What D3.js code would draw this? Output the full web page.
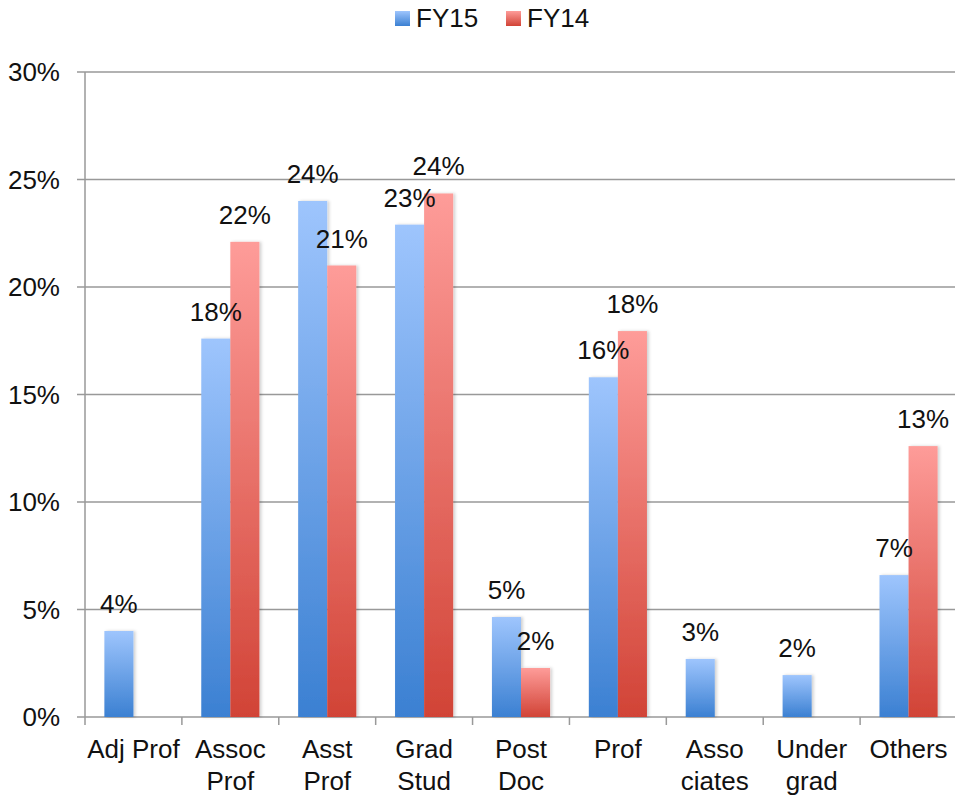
<!DOCTYPE html>
<html>
<head>
<meta charset="utf-8">
<script src="https://cdn.jsdelivr.net/npm/d3@7"></script>
<style>
  body { margin: 0; background: #fff; }
  text { font-family: "Liberation Sans", Arial, Helvetica, sans-serif; fill: #111; }
</style>
</head>
<body>
<div id="chart"></div>
<script>
// data
var categories = ["Adj Prof", "Assoc Prof", "Asst Prof", "Grad Stud", "Post Doc", "Prof", "Asso ciates", "Under grad", "Others"];
var catLines = [["Adj Prof"], ["Assoc", "Prof"], ["Asst", "Prof"], ["Grad", "Stud"], ["Post", "Doc"], ["Prof"], ["Asso", "ciates"], ["Under", "grad"], ["Others"]];
var seriesNames = ["FY15", "FY14"];
var fy15 = [4.0, 17.6, 24.0, 22.9, 4.65, 15.8, 2.7, 1.95, 6.6];
var fy14 = [null, 22.1, 21.0, 24.35, 2.28, 17.95, null, null, 12.6];
var yTicks = [0, 5, 10, 15, 20, 25, 30];

var svgWidth = 955, svgHeight = 800;
var margin = { top: 72, right: 0, bottom: 83, left: 85 };
var width = 957 - margin.left;
var height = 717 - margin.top;
var fontSize = "26px";

var svg = d3.select("#chart").append("svg")
  .attr("width", svgWidth)
  .attr("height", svgHeight);

// gradients per series
var defs = svg.append("defs");
var grads = { FY15: ["#9ec5fd", "#3b80d2"], FY14: ["#fe9c99", "#d14336"] };
seriesNames.forEach(function (s) {
  var g = defs.append("linearGradient")
    .attr("id", "grad" + s)
    .attr("x1", 0).attr("y1", 0).attr("x2", 0).attr("y2", 1);
  g.append("stop").attr("offset", "0%").attr("stop-color", grads[s][0]);
  g.append("stop").attr("offset", "100%").attr("stop-color", grads[s][1]);
});
var shadow = defs.append("filter").attr("id", "shadow")
  .attr("x", "-20%").attr("y", "-5%").attr("width", "150%").attr("height", "110%");
shadow.append("feDropShadow").attr("dx", 2).attr("dy", 0).attr("stdDeviation", 1.5)
  .attr("flood-color", "#000").attr("flood-opacity", 0.18);

var chartGroup = svg.append("g")
  .attr("transform", `translate(${margin.left}, ${margin.top})`);

var x0 = d3.scaleBand().domain(categories).range([0, width]);
var bw = x0.bandwidth();
var x1 = d3.scaleBand().domain(seriesNames).range([bw * 0.2, bw * 0.8]);
var y = d3.scaleLinear().domain([0, 30]).range([height, 0]);

// gridlines
chartGroup.selectAll(".grid")
  .data(yTicks)
  .enter()
  .append("line")
  .attr("x1", -8)
  .attr("x2", width)
  .attr("y1", d => y(d))
  .attr("y2", d => y(d))
  .attr("stroke", "#999")
  .attr("stroke-width", 1.5);

// y axis line
chartGroup.append("line")
  .attr("x1", 0).attr("x2", 0)
  .attr("y1", 0).attr("y2", height + 8)
  .attr("stroke", "#999")
  .attr("stroke-width", 1.5);

// category ticks
chartGroup.selectAll(".ctick")
  .data(categories.slice(1))
  .enter()
  .append("line")
  .attr("x1", d => x0(d)).attr("x2", d => x0(d))
  .attr("y1", height).attr("y2", height + 8)
  .attr("stroke", "#999")
  .attr("stroke-width", 1.5);

// y tick labels
chartGroup.selectAll(".ylab")
  .data(yTicks)
  .enter()
  .append("text")
  .attr("x", -25)
  .attr("y", d => y(d) + 9)
  .attr("text-anchor", "end")
  .style("font-size", fontSize)
  .text(d => d + "%");

// bars
var rows = [];
categories.forEach(function (c, i) {
  rows.push({ cat: c, s: "FY15", v: fy15[i] });
  if (fy14[i] != null) rows.push({ cat: c, s: "FY14", v: fy14[i] });
});

chartGroup.selectAll(".bar")
  .data(rows)
  .enter()
  .append("rect")
  .attr("x", d => x0(d.cat) + x1(d.s))
  .attr("y", d => y(d.v))
  .attr("width", x1.bandwidth())
  .attr("height", d => height - y(d.v))
  .attr("fill", d => `url(#grad${d.s})`)
  .attr("filter", "url(#shadow)");

// value labels
chartGroup.selectAll(".vlab")
  .data(rows)
  .enter()
  .append("text")
  .attr("x", d => x0(d.cat) + x1(d.s) + x1.bandwidth() / 2)
  .attr("y", d => y(d.v) - 18)
  .attr("text-anchor", "middle")
  .style("font-size", fontSize)
  .text(d => Math.round(d.v) + "%");

// category labels
categories.forEach(function (c, i) {
  var t = chartGroup.append("text")
    .attr("text-anchor", "middle")
    .style("font-size", fontSize);
  catLines[i].forEach(function (line, j) {
    t.append("tspan")
      .attr("x", x0(c) + bw / 2)
      .attr("y", height + 41 + j * 32)
      .text(line);
  });
});

// legend
var legend = svg.append("g");
var legendX = [395, 506];
seriesNames.forEach(function (s, i) {
  legend.append("rect")
    .attr("x", legendX[i]).attr("y", 11)
    .attr("width", 15).attr("height", 15)
    .attr("fill", `url(#grad${s})`);
  legend.append("text")
    .attr("x", legendX[i] + 21).attr("y", 27)
    .style("font-size", fontSize)
    .text(s);
});
</script>
</body>
</html>
